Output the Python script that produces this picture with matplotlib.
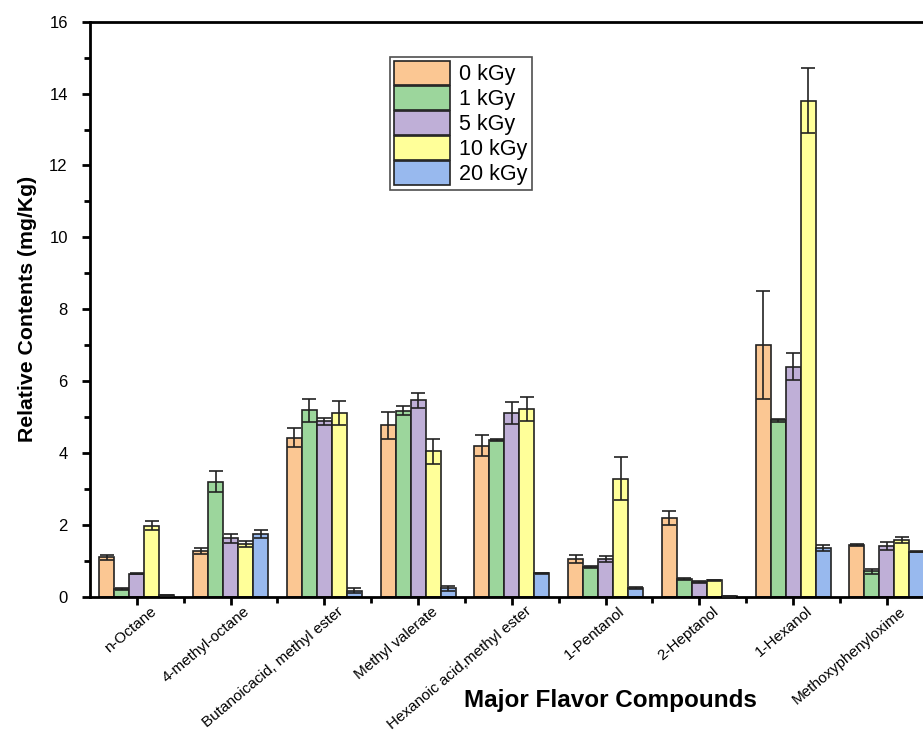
import matplotlib.pyplot as plt
import matplotlib.transforms as mtransforms
import numpy as np

plt.rcParams['font.family'] = ['Liberation Sans', 'DejaVu Sans']

# composes et doses
compounds = ["n-Octane", "4-methyl-octane", "Butanoicacid, methyl ester", "Methyl valerate",
             "Hexanoic acid,methyl ester", "1-Pentanol", "2-Heptanol", "1-Hexanol",
             "Methoxyphenyloxime"]
doses = ["0 kGy", "1 kGy", "5 kGy", "10 kGy", "20 kGy"]

# valeurs moyennes (mg/Kg) par dose
val_0 = [1.10, 1.28, 4.43, 4.77, 4.21, 1.05, 2.19, 7.02, 1.45]
val_1 = [0.22, 3.21, 5.19, 5.18, 4.36, 0.83, 0.51, 4.91, 0.72]
val_5 = [0.65, 1.63, 4.89, 5.47, 5.11, 1.06, 0.42, 6.41, 1.43]
val_10 = [1.98, 1.47, 5.11, 4.05, 5.23, 3.29, 0.46, 13.80, 1.59]
val_20 = [0.05, 1.75, 0.18, 0.24, 0.66, 0.24, 0.02, 1.36, 1.26]

# écarts-types
err_0 = [0.07, 0.07, 0.27, 0.38, 0.30, 0.11, 0.20, 1.50, 0.02]
err_1 = [0.02, 0.30, 0.33, 0.12, 0.03, 0.02, 0.03, 0.04, 0.07]
err_5 = [0.02, 0.12, 0.10, 0.20, 0.30, 0.09, 0.02, 0.37, 0.11]
err_10 = [0.13, 0.08, 0.33, 0.35, 0.33, 0.60, 0.02, 0.90, 0.08]
err_20 = [0.02, 0.12, 0.07, 0.08, 0.02, 0.03, 0.01, 0.08, 0.02]

colors = ['#FBC793', '#9CD69C', '#BFAFD7', '#FFFF99', '#98B9EE']

values = [val_0, val_1, val_5, val_10, val_20]
errors = [err_0, err_1, err_5, err_10, err_20]

fig = plt.figure(figsize=(9.23, 7.33), dpi=100)
ax = fig.add_axes([0.0975, 0.1855, 0.914, 0.785])

x = np.arange(len(compounds))
width = 0.16
for i in range(5):
    pos = x + (i - 2) * width
    ax.bar(pos, values[i], width, color=colors[i], edgecolor='#222222', linewidth=1.2,
           label=doses[i], zorder=2)
    ax.errorbar(pos, values[i], yerr=errors[i], fmt='none', ecolor='#222222',
                elinewidth=1.2, capsize=5, capthick=1.2, zorder=3)

ax.set_xlim(-0.5, 8.5)
ax.set_ylim(0, 16)
ax.set_yticks(np.arange(0, 17, 2))
ax.set_yticks(np.arange(1, 16, 2), minor=True)
ax.set_xticks(x)
ax.set_xticks(x + 0.5, minor=True)

ax.tick_params(axis='both', which='major', direction='out', length=6, width=2)
ax.tick_params(axis='y', which='major', labelsize=12, pad=10)
ax.tick_params(axis='both', which='minor', direction='out', length=4, width=2)
for s in ['left', 'bottom', 'top']:
    ax.spines[s].set_linewidth(2)
ax.spines['right'].set_visible(False)

# étiquettes inclinées, décalées vers la droite
ax.set_xticklabels(compounds, rotation=40, ha='right', va='top', rotation_mode='anchor',
                   fontsize=11)
offset = mtransforms.ScaledTranslation(0.13, 0.06, fig.dpi_scale_trans)
for lab in ax.get_xticklabels():
    lab.set_transform(lab.get_transform() + offset)

ax.set_ylabel("Relative Contents (mg/Kg)", fontsize=15.3, fontweight='bold')
ax.yaxis.set_label_coords(-0.063, 0.5)
fig.text(0.661, 0.045, "Major Flavor Compounds", fontsize=17.5, fontweight='bold',
         ha='center', va='center')

leg = ax.legend(loc='upper left', bbox_to_anchor=(390 / 923, 1 - 57 / 733),
                bbox_transform=fig.transFigure, fontsize=15.5, frameon=True, fancybox=False,
                edgecolor='#222222', handlelength=2.6, handleheight=1.3, labelspacing=0.05,
                handletextpad=0.4, borderpad=0.2, borderaxespad=0)
leg.get_frame().set_linewidth(1.2)

fig.savefig("out.png", dpi=100)
